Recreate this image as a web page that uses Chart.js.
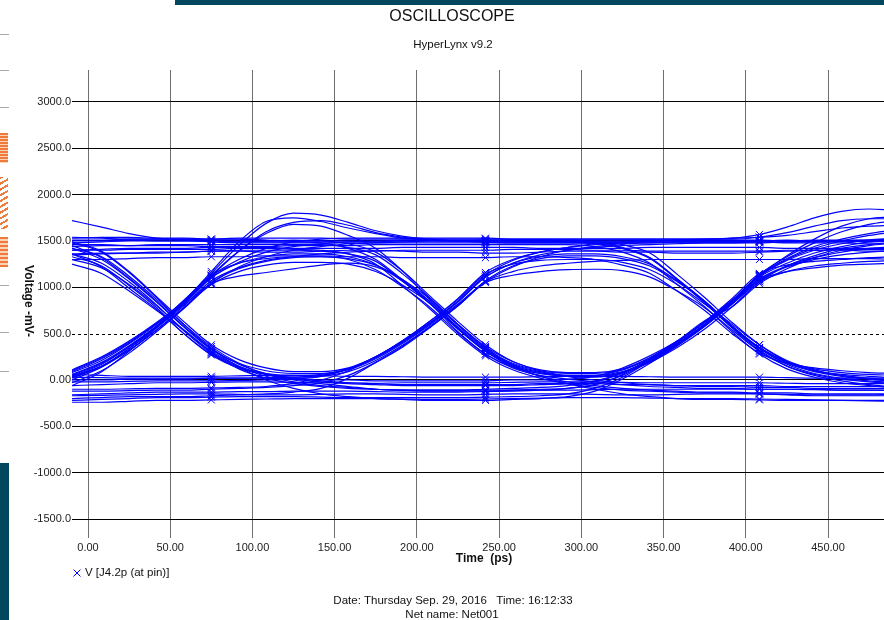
<!DOCTYPE html>
<html>
<head>
<meta charset="utf-8">
<title>Oscilloscope</title>
<script src="https://cdn.jsdelivr.net/npm/chart.js@4.4.0/dist/chart.umd.min.js"></script>
<style>
  html, body { margin: 0; padding: 0; background: #fff; }
  #wrap { position: relative; width: 884px; height: 620px; overflow: hidden; }
  #scope { position: absolute; left: 0; top: 0; }
  .deco { position: absolute; }
  .tick { left: 0; width: 9px; height: 1px; background: #a8a8a8; }
</style>
</head>
<body>
<div id="wrap">
  <canvas id="scope" width="884" height="620"></canvas>
  <!-- bits of the neighbouring window that show in the screenshot -->
  <div class="deco" style="left:175px;top:0;width:709px;height:5px;background:#03475e"></div>
  <div class="deco" style="left:0;top:463px;width:9px;height:157px;background:#03475e"></div>
  <div class="deco tick" style="top:34px"></div>
  <div class="deco tick" style="top:70px"></div>
  <div class="deco tick" style="top:107px"></div>
  <div class="deco tick" style="top:285px"></div>
  <div class="deco tick" style="top:332px"></div>
  <div class="deco tick" style="top:371px"></div>
  <div class="deco" style="left:0;top:133px;width:8px;height:30px;background:repeating-linear-gradient(180deg,#f07a3a 0 2px,#fbd3b8 2px 3px)"></div>
  <div class="deco" style="left:0;top:177px;width:8px;height:52px;background:repeating-linear-gradient(150deg,#f07a3a 0 2px,#fff 2px 5px)"></div>
  <div class="deco" style="left:0;top:237px;width:8px;height:30px;background:repeating-linear-gradient(180deg,#f07a3a 0 2px,#fbd3b8 2px 4px)"></div>
</div>
<script>
const timePs = [-9.7, 8.3, 25.0, 41.7, 58.3, 75.0, 91.7, 108.3, 125.0, 141.7, 158.3, 175.0, 191.7, 208.3,
                225.0, 241.7, 258.3, 275.0, 291.7, 308.3, 325.0, 341.7, 358.3, 375.0,
                391.7, 408.3, 425.0, 441.7, 458.3, 475.0, 491.7];
const markerTimes = [75.0, 241.7, 408.3];

const timeTicks = [0, 50, 100, 150, 200, 250, 300, 350, 400, 450];
const timeLabels = ['0.00', '50.00', '100.00', '150.00', '200.00', '250.00', '300.00', '350.00', '400.00', '450.00'];
const voltTicks = [-1500, -1000, -500, 0, 500, 1000, 1500, 2000, 2500, 3000];
const voltLabels = ['-1500.0', '-1000.0', '-500.0', '0.00', '500.0', '1000.0', '1500.0', '2000.0', '2500.0', '3000.0'];
const dashedLevel = 500;

// mV at each timePs sample, one row per sweep
const traces = [
  [1500,1500,1510,1500, 1500,1500,1490,1500,1510,1500,1500,1490,1500,1500, 1500,1510,1500,1500,1490,1500,1500,1510,1500,1500, 1500,1500,1510,1500,1500,1490,1500],
  [1360,1370,1370,1380, 1380,1390,1390,1380,1380,1390,1400,1400,1390,1380, 1380,1370,1370,1380,1390,1390,1380,1380,1370,1370, 1370,1380,1390,1400,1400,1390,1390],
  [-170,-165,-160,-155, -150,-150,-155,-160,-160,-155,-150,-150,-155,-160, -160,-155,-150,-150,-150,-155,-160,-160,-155,-150, -150,-150,-155,-160,-160,-160,-155],
  [-60,-50,-40,-30, -30,-25,-20,-20,-25,-30,-30,-35,-30,-30, -30,-30,-25,-20,-20,-20,-25,-30,-30,-30, -30,-30,-35,-40,-40,-40,-40],
  [1360,1220,990,760, 500,270,130,70,50,60,120,250,430,640, 870,1140,1250,1290,1300,1300,1270,1190,1030,820, 600,380,210,110,50,10,-20],
  [40,150,320,540, 780,1030,1170,1240,1270,1270,1250,1170,1020,820, 520,280,140,70,50,50,110,240,420,630, 880,1150,1240,1280,1300,1320,1330],
  [1420,1330,1120,870, 600,360,180,60,0,-40,-70,-100,-110,-120, -120,-120,-110,-100,-90,-50,60,230,420,640, 790,1040,1200,1320,1400,1450,1480],
  [60,190,370,580, 820,1100,1270,1380,1440,1470,1490,1500,1500,1500, 1500,1500,1500,1500,1500,1490,1430,1320,1090,840, 570,340,180,90,40,10,-10],
  [1480,1490,1500,1500, 1500,1500,1490,1490,1490,1480,1420,1300,1070,820, 550,310,140,40,-20,-60,-90,-110,-120,-130, -130,-140,-140,-150,-150,-150,-150],
  [-100,-100,-95,-90, -90,-85,-80,-70,-40,0,100,250,430,640, 880,1160,1300,1380,1430,1470,1490,1500,1510,1510, 1510,1510,1500,1500,1500,1500,1500],
  [1420,1300,1090,840, 570,330,180,100,70,70,120,240,410,610, 840,1110,1260,1350,1400,1430,1450,1460,1470,1480, 1480,1490,1490,1500,1500,1500,1500],
  [80,210,390,600, 860,1130,1260,1310,1330,1330,1300,1190,1000,780, 510,280,130,50,10,-20,-50,-70,-80,-90, -90,-100,-100,-100,-110,-110,-110],
  [1350,1360,1370,1370, 1380,1390,1400,1400,1400,1390,1360,1280,1060,820, 550,310,150,70,40,40,80,190,350,550, 790,1060,1230,1340,1420,1460,1490],
  [-200,-190,-180,-180, -180,-170,-160,-150,-130,-90,20,190,370,580, 810,1050,1130,1170,1190,1195,1180,1110,960,780, 540,310,150,60,10,-20,-40],
  [1450,1320,1100,850, 580,340,170,70,20,-10,-30,-40,-50,-50, -50,-50,-50,-40,-40,-40,-50,-50,-60,-60, -60,-60,-70,-70,-70,-70,-70],
  [-30,100,290,520, 770,1040,1220,1330,1400,1440,1470,1480,1490,1500, 1500,1500,1510,1510,1510,1500,1500,1500,1500,1500, 1500,1500,1500,1510,1510,1510,1510],
  [1300,1300,1310,1320, 1320,1330,1330,1340,1340,1340,1330,1330,1320,1320, 1320,1320,1330,1330,1320,1300,1240,1150,960,750, 500,290,180,130,100,80,70],
  [-220,-210,-200,-190, -190,-185,-180,-180,-180,-185,-190,-190,-190,-190, -190,-185,-180,-170,-150,-90,30,210,410,630, 860,1080,1170,1210,1240,1250,1260],
  [40,170,360,580, 840,1150,1450,1690,1800,1780,1700,1610,1550,1520, 1500,1490,1490,1490,1490,1490,1490,1490,1490,1490, 1490,1500,1500,1500,1500,1500,1500],
  [90,230,400,610, 830,1130,1390,1580,1680,1660,1560,1420,1170,860, 590,340,180,100,70,70,110,230,400,600, 840,1120,1300,1420,1500,1560,1600],
  [0,0,10,10, 10,20,20,20,10,0,0,-10,-10,-10, -10,-10,0,0,10,40,130,260,420,620, 850,1130,1340,1520,1660,1740,1760],
  [1540,1530,1520,1520, 1520,1520,1530,1530,1530,1530,1520,1520,1520,1520, 1520,1520,1520,1520,1520,1520,1520,1520,1520,1520, 1530,1570,1650,1750,1820,1845,1830],
  [1440,1450,1450,1460, 1460,1460,1460,1460,1460,1460,1430,1350,1140,880, 600,350,160,40,-40,-100,-150,-180,-200,-210, -210,-215,-220,-220,-220,-220,-220],
  [30,25,20,20, 20,20,20,25,30,50,110,230,400,600, 820,1060,1170,1230,1260,1280,1290,1300,1300,1300, 1300,1300,1300,1310,1310,1310,1300],
  [1480,1380,1160,890, 600,340,140,0,-90,-150,-180,-200,-210,-220, -220,-220,-210,-200,-180,-120,10,180,370,580, 830,1090,1230,1320,1380,1420,1440],
  [110,250,420,620, 850,1110,1260,1330,1360,1360,1330,1240,1060,840, 570,330,170,90,40,30,80,200,370,580, 820,1080,1220,1300,1350,1380,1400],
  [1460,1460,1450,1450, 1450,1440,1440,1440,1450,1450,1450,1460,1460,1460, 1460,1460,1460,1460,1460,1440,1380,1260,1030,790, 520,280,120,30,-30,-60,-90],
  [-240,-240,-230,-220, -220,-215,-210,-205,-200,-200,-200,-200,-205,-210, -210,-205,-200,-195,-190,-190,-190,-195,-200,-200, -200,-205,-210,-215,-220,-225,-230],
  [1720,1650,1580,1530, 1510,1490,1480,1480,1480,1480,1480,1480,1480,1480, 1480,1480,1480,1480,1480,1480,1480,1480,1480,1480, 1480,1480,1490,1490,1500,1510,1520],
  [50,180,360,580, 850,1170,1490,1710,1750,1710,1640,1580,1530,1510, 1500,1490,1480,1480,1480,1470,1420,1310,1080,830, 560,320,150,50,-10,-50,-80],
  [1250,1150,960,750, 540,310,150,60,10,-20,-40,-50,-60,-60, -60,-60,-60,-50,-40,-10,80,220,390,600, 840,1110,1260,1370,1440,1490,1520],
  [-60,90,310,560, 800,1070,1210,1290,1330,1360,1380,1390,1400,1400, 1400,1400,1410,1410,1410,1400,1400,1390,1390,1390, 1390,1390,1400,1400,1410,1410,1410],
  [1330,1230,1020,780, 500,280,130,60,30,40,90,210,380,580, 800,1060,1220,1330,1400,1440,1470,1480,1490,1490, 1490,1490,1480,1480,1480,1470,1470],
  [30,140,320,540, 780,1050,1200,1280,1320,1330,1310,1240,1080,870, 600,360,200,100,40,0,-30,-50,-60,-70, -70,-80,-80,-90,-90,-90,-90],
  [-120,-120,-115,-110, -110,-100,-90,-80,-60,-30,50,190,360,570, 800,1070,1230,1310,1340,1340,1310,1230,1060,850, 580,350,190,100,60,40,20],
  [1530,1540,1540,1530, 1530,1520,1520,1510,1500,1500,1470,1380,1170,900, 630,380,200,110,80,80,120,240,410,620, 860,1140,1330,1480,1600,1680,1720],
  [20,150,340,570, 820,1120,1390,1600,1700,1720,1670,1590,1540,1510, 1500,1500,1500,1490,1490,1480,1420,1320,1090,850, 580,340,170,70,20,-10,-30],
  [1360,1260,1060,810, 530,290,120,20,-40,-70,-90,-100,-110,-110, -110,-110,-110,-110,-110,-105,-100,-100,-100,-100, -100,-100,-100,-105,-110,-110,-115],
  [-160,-150,-140,-130, -130,-130,-125,-125,-120,-120,-120,-125,-130,-130, -130,-125,-120,-110,-90,-50,50,200,380,600, 840,1120,1290,1400,1470,1510,1530],
  [1510,1510,1520,1520, 1520,1510,1510,1500,1500,1500,1500,1500,1510,1510, 1510,1510,1510,1510,1500,1500,1460,1370,1140,890, 620,380,200,100,50,20,0],
  [100,240,410,610, 810,1040,1120,1160,1200,1240,1260,1220,1080,840, 560,320,160,80,50,50,90,210,380,590, 820,1060,1170,1230,1260,1280,1290],
  [-20,-20,-15,-10, -10,-10,-5,0,10,40,120,250,420,620, 850,1130,1290,1380,1430,1460,1480,1500,1510,1520, 1530,1540,1560,1600,1640,1660,1670],
  [1490,1390,1170,900, 630,380,220,130,90,90,130,250,420,620, 850,1110,1260,1330,1360,1360,1330,1250,1070,850, 580,350,200,120,80,60,50],
  [1400,1400,1410,1410, 1410,1410,1420,1420,1410,1400,1360,1250,1010,760, 490,260,110,20,-40,-80,-110,-120,-130,-140, -140,-150,-160,-170,-170,-170,-170],
  [60,50,40,40, 40,40,45,50,50,45,40,40,35,30, 30,30,30,35,40,40,40,35,30,30, 30,30,25,20,20,20,20],
  [0,140,340,570, 830,1120,1300,1420,1490,1520,1530,1530,1530,1530, 1530,1530,1520,1520,1520,1520,1520,1520,1520,1520, 1520,1540,1590,1660,1720,1740,1740],
  [1300,1210,1030,800, 540,300,140,40,-20,-60,-80,-100,-110,-110, -110,-100,-90,-80,-60,-20,70,210,390,600, 850,1130,1310,1440,1520,1580,1620],
  [1400,1410,1420,1420, 1420,1430,1430,1430,1420,1420,1420,1420,1430,1430, 1430,1430,1430,1420,1420,1420,1420,1430,1430,1430, 1430,1430,1420,1420,1420,1420,1420]
];

const FONT = '"Liberation Sans", Arial, sans-serif';
const BLUE = '#0000ff';

const datasets = traces.map(values => ({
  data: values.map((v, i) => ({ x: timePs[i], y: v })),
  borderColor: BLUE,
  borderWidth: 1.2,
  fill: false,
  cubicInterpolationMode: 'monotone',
  pointStyle: 'crossRot',
  pointRadius: ctx => markerTimes.includes(timePs[ctx.dataIndex]) ? 5 : 0,
  pointHoverRadius: 0,
  pointBorderColor: BLUE,
  pointBorderWidth: 1
}));

const scopeText = {
  id: 'scopeText',
  beforeDatasetsDraw(chart) {
    const { ctx, chartArea, scales } = chart;
    const y = Math.round(scales.y.getPixelForValue(dashedLevel)) + 0.5;
    ctx.save();
    ctx.strokeStyle = '#000';
    ctx.lineWidth = 1;
    ctx.setLineDash([3, 3]);
    ctx.beginPath();
    ctx.moveTo(chartArea.left, y);
    ctx.lineTo(chartArea.right, y);
    ctx.stroke();
    ctx.restore();
  },
  afterDraw(chart) {
    const ctx = chart.ctx;
    ctx.save();
    ctx.fillStyle = '#111';
    ctx.textAlign = 'center';
    ctx.textBaseline = 'middle';

    ctx.font = '16px ' + FONT;
    ctx.fillText('OSCILLOSCOPE', 452, 17);
    ctx.font = '11.5px ' + FONT;
    ctx.fillText('HyperLynx v9.2', 453, 45);

    ctx.font = 'bold 12px ' + FONT;
    ctx.fillText('Time  (ps)', 484, 559);
    ctx.save();
    ctx.translate(28, 301);
    ctx.rotate(Math.PI / 2);
    ctx.fillText('Voltage -mV-', 0, 0);
    ctx.restore();

    // legend
    ctx.strokeStyle = BLUE;
    ctx.lineWidth = 1;
    ctx.beginPath();
    ctx.moveTo(73.5, 569.5); ctx.lineTo(80.5, 576.5);
    ctx.moveTo(80.5, 569.5); ctx.lineTo(73.5, 576.5);
    ctx.stroke();
    ctx.textAlign = 'left';
    ctx.font = '11.5px ' + FONT;
    ctx.fillText('V [J4.2p (at pin)]', 85, 573);

    ctx.textAlign = 'center';
    ctx.fillText('Date: Thursday Sep. 29, 2016   Time: 16:12:33', 453, 601);
    ctx.fillText('Net name: Net001', 452, 615);
    ctx.restore();
  }
};

new Chart(document.getElementById('scope'), {
  type: 'line',
  data: { datasets },
  plugins: [scopeText],
  options: {
    responsive: false,
    animation: false,
    devicePixelRatio: 1,
    layout: { padding: { top: 70, left: 0, right: 0, bottom: 0 } },
    plugins: { legend: { display: false }, tooltip: { enabled: false }, title: { display: false } },
    scales: {
      x: {
        type: 'linear',
        min: -9.73,
        max: 484.05,
        afterBuildTicks: s => { s.ticks = timeTicks.map(v => ({ value: v })); },
        afterFit: s => { s.height = 82; },
        ticks: {
          callback: v => timeLabels[timeTicks.indexOf(v)],
          font: { family: FONT, size: 11 },
          color: '#222',
          padding: 3,
          maxRotation: 0,
          autoSkip: false
        },
        grid: { color: '#6e6e6e', lineWidth: 1, drawTicks: false },
        border: { display: false }
      },
      y: {
        type: 'linear',
        min: -1705,
        max: 3345,
        afterBuildTicks: s => { s.ticks = voltTicks.map(v => ({ value: v })); },
        afterFit: s => { s.width = 72; },
        ticks: {
          callback: v => voltLabels[voltTicks.indexOf(v)],
          font: { family: FONT, size: 11 },
          color: '#222',
          padding: 1,
          autoSkip: false
        },
        grid: {
          color: ctx => (ctx.tick && ctx.tick.value === dashedLevel) ? 'rgba(0,0,0,0)' : '#000',
          lineWidth: 1,
          drawTicks: false
        },
        border: { display: false }
      }
    }
  }
});
</script>
</body>
</html>
